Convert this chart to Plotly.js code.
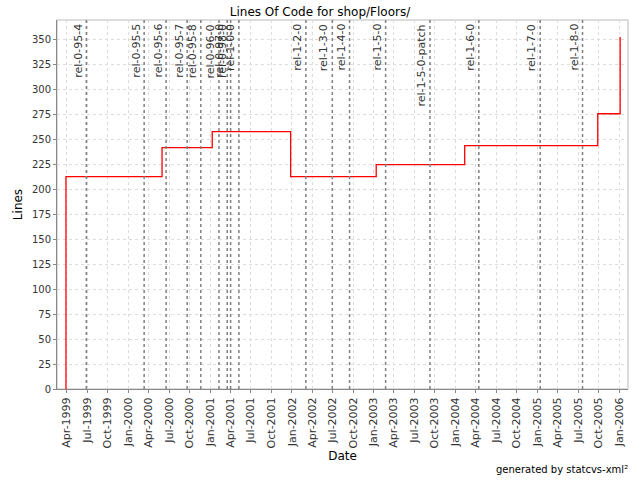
<!DOCTYPE html>
<html>
<head>
<meta charset="utf-8">
<script src="https://cdn.plot.ly/plotly-3.0.1.min.js"></script>
<style>html,body{margin:0;padding:0;background:#fff;}#chart{width:640px;height:480px;}</style>
</head>
<body>
<div id="chart"></div>
<script>
// Lines of code over time (step series)
var locDates = ['1999-03-29', '1999-03-29', '2000-05-31', '2001-01-10', '2001-12-26', '2003-01-12', '2004-02-11', '2005-09-27', '2006-01-05'];
var locValues = [0, 213, 242, 258, 213, 225, 244, 276, 353];

// Release tags
var tagNames = ['rel-0-95-4', 'rel-0-95-5', 'rel-0-95-6', 'rel-0-95-7', 'rel-0-95-8', 'rel-0-96-0', 'rel-0-97-0', 'rel-0-98-0', 'rel-1-0-0',
  'rel-1-2-0', 'rel-1-3-0', 'rel-1-4-0', 'rel-1-5-0', 'rel-1-5-0-patch', 'rel-1-6-0', 'rel-1-7-0', 'rel-1-8-0'];
var tagDates = ['1999-06-28', '2000-03-12', '2000-06-18', '2000-09-20', '2000-11-20', '2001-02-09', '2001-03-18', '2001-04-02', '2001-05-09',
  '2002-03-04', '2002-06-30', '2002-09-15', '2003-02-23', '2003-09-09', '2004-04-14', '2005-01-13', '2005-07-21'];

// Tick labels
var tickVals = [], tickText = [];
var mon = ['Jan', 'Apr', 'Jul', 'Oct'];
for (var y = 1999; y <= 2006; y++) {
  for (var q = 0; q < 4; q++) {
    var m = q * 3 + 1;
    var d = y + '-' + (m < 10 ? '0' + m : m) + '-01';
    if (d < '1999-04-01' || d > '2006-01-01') continue;
    tickVals.push(d);
    tickText.push(mon[q] + '-' + y);
  }
}

var shapes = tagDates.map(function (d) {
  return {type: 'line', xref: 'x', yref: 'paper', x0: d, x1: d, y0: 0, y1: 1,
    line: {color: '#808080', width: 1.5, dash: '3px,3px'}, layer: 'above'};
});
var annotations = tagNames.map(function (n, i) {
  return {x: tagDates[i], xref: 'x', y: 1, yref: 'paper', text: n, showarrow: false, textangle: -90,
    xanchor: 'right', yanchor: 'top', xshift: 0, yshift: -2,
    font: {family: 'DejaVu Sans', size: 11, color: '#333333'}};
});
annotations.push({x: 1, xref: 'paper', y: -0.2195, yref: 'paper', xanchor: 'right', yanchor: 'middle', xshift: 2,
  text: 'generated by statcvs-xml²', showarrow: false, font: {family: 'DejaVu Sans', size: 10, color: '#000'}});

var trace = {
  x: locDates, y: locValues, type: 'scatter', mode: 'lines',
  line: {shape: 'hv', color: '#ff0000', width: 1.3}, hoverinfo: 'none'
};

var layout = {
  width: 640, height: 480,
  paper_bgcolor: '#ffffff', plot_bgcolor: '#ffffff',
  margin: {l: 57, r: 12, t: 20, b: 91},
  showlegend: false,
  font: {family: 'DejaVu Sans', size: 10, color: '#333'},
  title: {text: 'Lines Of Code for shop/Floors/', font: {family: 'DejaVu Sans', size: 12, color: '#000'}, x: 0.5, xanchor: 'center', y: 0.985, yanchor: 'top'},
  xaxis: {
    type: 'date', range: ['1999-02-17', '2006-02-09'],
    tickmode: 'array', tickvals: tickVals, ticktext: tickText, tickangle: -90,
    tickfont: {family: 'DejaVu Sans', size: 11, color: '#333'},
    showgrid: true, gridcolor: '#dcdcdc', griddash: '3px,3px', gridwidth: 1,
    showline: true, linecolor: '#888888', linewidth: 1, mirror: false,
    ticks: 'outside', ticklen: 3, tickcolor: '#888888',
    zeroline: false,
    title: {text: 'Date', font: {family: 'DejaVu Sans', size: 12, color: '#000'}, standoff: 4}
  },
  yaxis: {
    range: [0, 370], tickmode: 'linear', tick0: 0, dtick: 25,
    tickfont: {family: 'DejaVu Sans', size: 10, color: '#333'},
    showgrid: true, gridcolor: '#dcdcdc', griddash: '3px,3px', gridwidth: 1,
    showline: true, linecolor: '#888888', linewidth: 1,
    ticks: 'outside', ticklen: 3, tickcolor: '#888888',
    zeroline: false,
    title: {text: 'Lines', font: {family: 'DejaVu Sans', size: 12, color: '#000'}, standoff: 6}
  },
  shapes: shapes.concat([{type: 'rect', xref: 'paper', yref: 'paper', x0: 0, x1: 1, y0: 0, y1: 1, line: {color: '#bbbbbb', width: 1}, layer: 'below'}]),
  annotations: annotations
};

Plotly.newPlot('chart', [trace], layout, {staticPlot: true, displayModeBar: false});
</script>
</body>
</html>
